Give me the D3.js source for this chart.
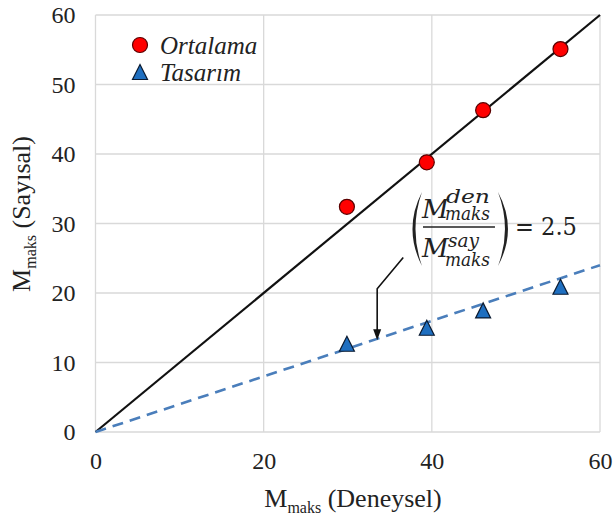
<!DOCTYPE html>
<html>
<head>
<meta charset="utf-8">
<script src="https://cdn.jsdelivr.net/npm/d3@7"></script>
<style>
  html, body { margin: 0; padding: 0; background: #fff; }
  svg { display: block; }
  .serif { font-family: "Liberation Serif", "Tinos", "Nimbus Roman", "DejaVu Serif", serif; }
  .math { font-family: "DejaVu Serif", serif; }
</style>
</head>
<body>
<svg id="chart" width="614" height="519"></svg>
<script>
// ---- data ----
const ortalamaX = [29.9, 39.4, 46.1, 55.3];
const ortalamaY = [32.4, 38.8, 46.3, 55.1];
const tasarimX = [29.9, 39.4, 46.1, 55.3];
const tasarimY = [12.7, 15.0, 17.5, 20.9];
const xTicks = [0, 20, 40, 60];
const yTicks = [0, 10, 20, 30, 40, 50, 60];
const ratio = 2.5;                 // M_den / M_say
const seriesNames = ["Ortalama", "Tasarım"];

// ---- layout ----
const W = 614, H = 519;
const m = { left: 95.5, right: 14, top: 15, bottom: 87 };
const svg = d3.select("#chart");
const x = d3.scaleLinear().domain([0, 60]).range([m.left, W - m.right]);
const y = d3.scaleLinear().domain([0, 60]).range([H - m.bottom, m.top]);
const grid = "#d9d9d9";

// gridlines
svg.append("g").selectAll("line.v").data(xTicks).join("line")
  .attr("x1", d => x(d)).attr("x2", d => x(d))
  .attr("y1", y(0)).attr("y2", y(60))
  .attr("stroke", grid).attr("stroke-width", 1.3);
svg.append("g").selectAll("line.h").data(yTicks).join("line")
  .attr("y1", d => y(d)).attr("y2", d => y(d))
  .attr("x1", x(0)).attr("x2", x(60))
  .attr("stroke", grid).attr("stroke-width", 1.3);

// axes (labels only)
const xAxis = svg.append("g").attr("transform", `translate(0,${y(0)})`)
  .call(d3.axisBottom(x).tickValues(xTicks).tickSize(0).tickPadding(20));
const yAxis = svg.append("g").attr("transform", `translate(${x(0)},0)`)
  .call(d3.axisLeft(y).tickValues(yTicks).tickSize(0).tickPadding(20));
[xAxis, yAxis].forEach(a => {
  a.attr("font-family", null).attr("font-size", null);
  a.select(".domain").remove();
  a.selectAll("text").attr("class", "serif").style("font-size", "24px").attr("fill", "#222");
});

// lines
const line = d3.line().x(d => x(d[0])).y(d => y(d[1]));
svg.append("path").datum([[0, 0], [60, 60]]).attr("d", line)
  .attr("stroke", "#111").attr("stroke-width", 2.2).attr("fill", "none");
svg.append("path").datum([[0, 0], [60, 60 / ratio]]).attr("d", line)
  .attr("stroke", "#4a7ebb").attr("stroke-width", 2.6).attr("fill", "none")
  .attr("stroke-dasharray", "11,7");

// markers
const tri = s => `M0,${-s / 2}L${s / 2},${s / 2}L${-s / 2},${s / 2}Z`;
svg.append("g").selectAll("circle").data(ortalamaX.map((d, i) => [d, ortalamaY[i]])).join("circle")
  .attr("cx", d => x(d[0])).attr("cy", d => y(d[1])).attr("r", 7.5)
  .attr("fill", "#ff0000").attr("stroke", "#5a0000").attr("stroke-width", 1.2);
svg.append("g").selectAll("path").data(tasarimX.map((d, i) => [d, tasarimY[i]])).join("path")
  .attr("transform", d => `translate(${x(d[0])},${y(d[1])})`)
  .attr("d", tri(15))
  .attr("fill", "#1f6fc0").attr("stroke", "#0a1a30").attr("stroke-width", 1.2);

// legend
const lg = svg.append("g").attr("transform", `translate(140,45)`);
lg.append("circle").attr("r", 7.5).attr("fill", "#ff0000").attr("stroke", "#5a0000").attr("stroke-width", 1.2);
lg.append("path").attr("transform", "translate(0,27)").attr("d", tri(15))
  .attr("fill", "#1f6fc0").attr("stroke", "#0a1a30").attr("stroke-width", 1.2);
lg.selectAll("text").data(seriesNames).join("text")
  .attr("class", "serif")
  .attr("x", 20).attr("y", (d, i) => i * 27 + 8.5)
  .style("font-style", "italic").style("font-size", "25px")
  .attr("fill", "#222").text(d => d);

// axis titles
const xt = svg.append("text").attr("class", "serif")
  .attr("x", 353).attr("y", 507)
  .attr("text-anchor", "middle").style("font-size", "26px").attr("fill", "#222");
xt.append("tspan").text("M");
xt.append("tspan").style("font-size", "16px").attr("dy", 6).text("maks");
xt.append("tspan").attr("dy", -6).text(" (Deneysel)");

const yt = svg.append("text").attr("class", "serif")
  .attr("transform", `translate(30,214) rotate(-90)`)
  .attr("text-anchor", "middle").style("font-size", "26px").attr("fill", "#222");
yt.append("tspan").text("M");
yt.append("tspan").style("font-size", "16px").attr("dy", 6).text("maks");
yt.append("tspan").attr("dy", -6).text(" (Sayısal)");

// leader arrow
svg.append("path").datum([[36.6, 25.1], [33.5, 20.6], [33.5, 14.6]]).attr("d", line)
  .attr("stroke", "#111").attr("stroke-width", 1.6).attr("fill", "none");
const tipX = x(33.5), tipY = y(13.2);
svg.append("path").attr("d", `M${tipX},${tipY}L${tipX - 4},${tipY - 11}L${tipX + 4},${tipY - 11}Z`).attr("fill", "#111");

// ratio annotation
const an = svg.append("g").attr("transform", `translate(${x(37.4)},${y(29.5)})`).attr("fill", "#222");
an.append("path").attr("d", "M12,-35 Q-7,2 12,39 Q-1,2 12,-35Z");
an.append("path").attr("d", "M88,-35 Q108,2 88,39 Q102,2 88,-35Z");
an.append("line").attr("x1", 13).attr("x2", 85).attr("y1", 0).attr("y2", 0)
  .attr("stroke", "#222").attr("stroke-width", 1.5);
const mt = (t, xx, yy, fs, len) => {
  const e = an.append("text").attr("class", "math").attr("x", xx).attr("y", yy)
    .style("font-style", "italic").style("font-size", fs + "px").text(t);
  if (len) e.attr("textLength", len).attr("lengthAdjust", "spacingAndGlyphs");
  return e;
};
mt("M", 12, -9, 26);
mt("den", 36, -24, 18, 44);
mt("maks", 35, -7, 18, 45);
mt("M", 12, 30, 26);
mt("say", 38, 20, 18, 31);
mt("maks", 35, 39, 18, 45);
an.append("text").attr("class", "math").attr("x", 105).attr("y", 8)
  .style("font-size", "25px").attr("textLength", 62).attr("lengthAdjust", "spacingAndGlyphs")
  .text("= " + ratio);
</script>
</body>
</html>
